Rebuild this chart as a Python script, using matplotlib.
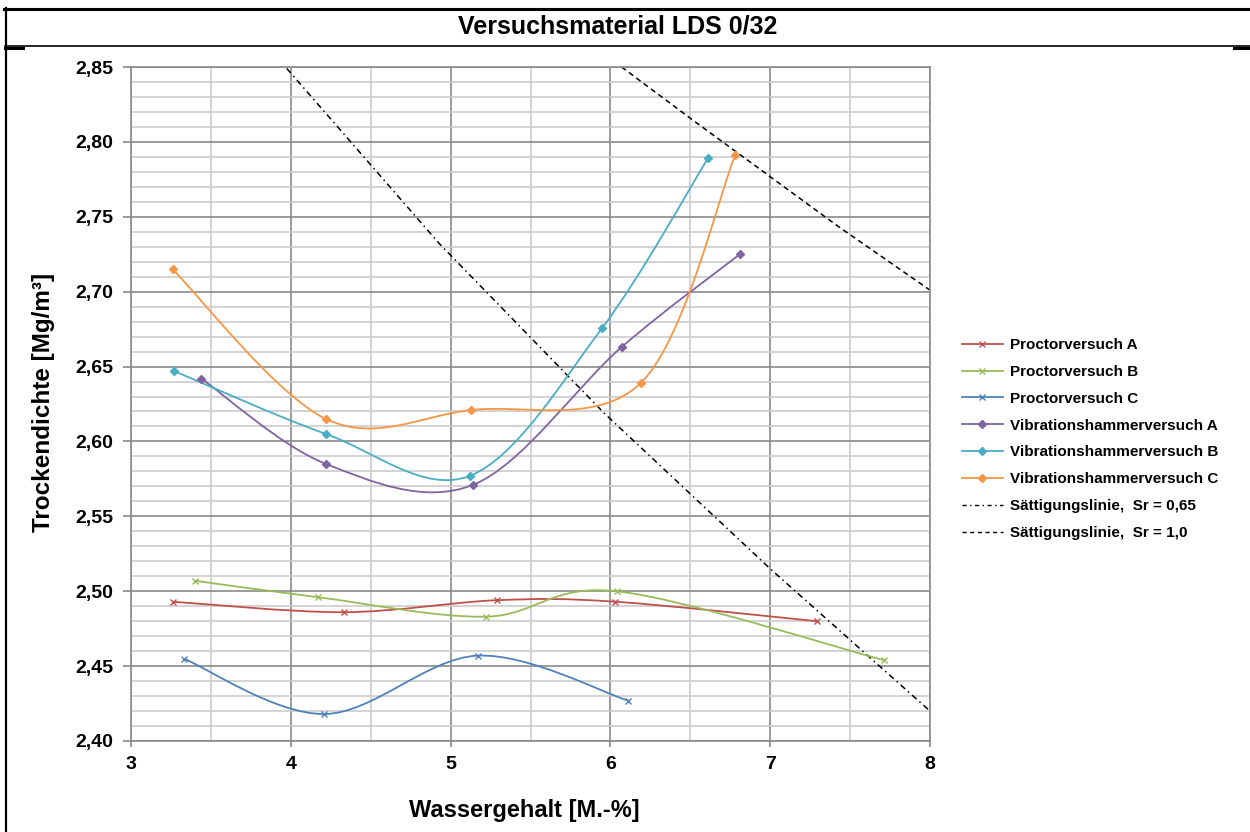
import numpy as np
import matplotlib
matplotlib.use("Agg")
import matplotlib.pyplot as plt
from matplotlib.path import Path
from matplotlib.patches import PathPatch
from matplotlib.lines import Line2D
from matplotlib.ticker import FuncFormatter

plt.rcParams['font.family'] = ['Liberation Sans', 'DejaVu Sans']
plt.rcParams['font.weight'] = 'bold'

# Wassergehalt [M.-%] / Trockendichte [Mg/m3]
proctor_a_w = [3.26, 4.33, 5.29, 6.03, 7.29]
proctor_a_rho = [2.493, 2.486, 2.494, 2.493, 2.480]
proctor_b_w = [3.40, 4.17, 5.22, 6.04, 7.71]
proctor_b_rho = [2.507, 2.496, 2.483, 2.500, 2.454]
proctor_c_w = [3.33, 4.21, 5.17, 6.11]
proctor_c_rho = [2.455, 2.418, 2.457, 2.427]

vib_a_w = [3.44, 4.22, 5.14, 6.07, 6.81]
vib_a_rho = [2.642, 2.585, 2.571, 2.663, 2.725]
vib_b_w = [3.27, 4.22, 5.12, 5.95, 6.61]
vib_b_rho = [2.647, 2.605, 2.577, 2.676, 2.789]
vib_c_w = [3.26, 4.22, 5.13, 6.19, 6.78]
vib_c_rho = [2.715, 2.615, 2.621, 2.639, 2.791]

sat065_w = [3.975, 4.93, 5.96, 7.0, 8.0]
sat065_rho = [2.849, 2.732, 2.619, 2.515, 2.420]
sat100_w = [6.07, 6.51, 7.42, 8.0]
sat100_rho = [2.850, 2.815, 2.744, 2.701]

labels = ["Proctorversuch A", "Proctorversuch B", "Proctorversuch C",
          "Vibrationshammerversuch A", "Vibrationshammerversuch B",
          "Vibrationshammerversuch C",
          "Sättigungslinie,  Sr = 0,65", "Sättigungslinie,  Sr = 1,0"]

W, H = 1250, 832


def fx(px):
    return px / W


def fy(py):
    return 1 - py / H


def smooth_path(xs, ys):
    # bezier smoothing like the spreadsheet "smoothed line" option
    pts = np.column_stack([xs, ys]).astype(float)
    n = len(pts)
    verts = [pts[0]]
    codes = [Path.MOVETO]
    for i in range(n - 1):
        p0 = pts[i - 1] if i > 0 else pts[i]
        p1 = pts[i]
        p2 = pts[i + 1]
        p3 = pts[i + 2] if i + 2 < n else pts[i + 1]
        verts += [p1 + (p2 - p0) / 6, p2 - (p3 - p1) / 6, p2]
        codes += [Path.CURVE4] * 3
    return Path(verts, codes)


fig = plt.figure(figsize=(W / 100, H / 100), dpi=100)
ax = fig.add_axes([fx(131), fy(741), 799 / W, 674 / H])

ax.set_xlim(3, 8)
ax.set_ylim(2.40, 2.85)
ax.set_xticks(np.arange(3, 8.01, 1))
ax.set_xticks(np.arange(3.5, 8, 1), minor=True)
ax.set_yticks(np.arange(2.40, 2.851, 0.05))
ax.set_yticks(np.arange(2.40, 2.851, 0.01), minor=True)
ax.yaxis.set_major_formatter(FuncFormatter(lambda v, p: f"{v:.2f}".replace(".", ",")))
ax.xaxis.set_major_formatter(FuncFormatter(lambda v, p: f"{v:.0f}"))
ax.grid(which='minor', color='#cccccc', lw=1.2, zorder=0)
ax.grid(which='major', color='#8a8a8a', lw=1.2, zorder=0)
ax.set_axisbelow(True)
ax.tick_params(which='minor', length=0)
ax.tick_params(axis='y', which='major', length=6, width=1.2, color='#8a8a8a',
               labelsize=14, pad=7)
ax.tick_params(axis='x', which='major', length=4, width=1.2, color='#8a8a8a',
               labelsize=14, pad=7)
for s in ax.spines.values():
    s.set_color('#8a8a8a')
    s.set_linewidth(1.2)

series = [
    (proctor_a_w, proctor_a_rho, '#C0504D', 'x', 5),
    (proctor_b_w, proctor_b_rho, '#9BBB59', 'x', 5),
    (proctor_c_w, proctor_c_rho, '#4F81BD', 'x', 5),
    (vib_a_w, vib_a_rho, '#8064A2', 'D', 3.8),
    (vib_b_w, vib_b_rho, '#4BACC6', 'D', 3.8),
    (vib_c_w, vib_c_rho, '#F79646', 'D', 3.8),
]

handles = []
for (xs, ys, col, mk, ms), lab in zip(series, labels):
    ax.add_patch(PathPatch(smooth_path(xs, ys), fill=False, edgecolor=col,
                           lw=1.3, zorder=3))
    ax.plot(xs, ys, linestyle='none', marker=mk, color=col, markersize=ms,
            markeredgewidth=1.0, zorder=4)
    handles.append(Line2D([], [], color=col, lw=1.3, marker=mk, markersize=ms,
                          markeredgewidth=1.0))

ax.plot(sat065_w, sat065_rho, color='black', lw=1.1,
        linestyle=(0, (4, 2.5, 1, 2.5)), zorder=2)
ax.plot(sat100_w, sat100_rho, color='black', lw=1.1,
        linestyle=(0, (3.5, 2.5)), zorder=2)
handles.append(Line2D([], [], color='black', lw=1.0, linestyle=(0, (3, 2.5, 1, 2.5))))
handles.append(Line2D([], [], color='black', lw=1.0, linestyle=(0, (3, 2.5))))

fig.legend(handles, labels, loc='center left', bbox_to_anchor=(fx(962), fy(439)),
           bbox_transform=fig.transFigure, frameon=False, fontsize=11,
           handlelength=2.68, handletextpad=0.45, labelspacing=0.84,
           borderpad=0, borderaxespad=0)

fig.text(fx(618), fy(26), "Versuchsmaterial LDS 0/32", ha='center', va='center',
         fontsize=18, fontweight='bold')
fig.text(fx(44), fy(402), "Trockendichte [Mg/m³]", ha='center', va='center',
         rotation=90, fontsize=17.5, fontweight='bold')
fig.text(fx(524), fy(811), "Wassergehalt [M.-%]", ha='center', va='center',
         fontsize=17, fontweight='bold')

# table frame around the chart
frame = [
    ((4, W), (8.5, 8.5), 2.2),
    ((5.5, 5.5), (8, H), 1.6),
    ((5, W), (46.3, 46.3), 1.2),
    ((5, 23), (47.5, 47.5), 2.2),
    ((1234, W), (47.5, 47.5), 2.2),
]
for xs, ys, lw in frame:
    fig.add_artist(Line2D([fx(x) for x in xs], [fy(y) for y in ys], color='black',
                          lw=lw, transform=fig.transFigure))

fig.savefig("out.png", dpi=100)
